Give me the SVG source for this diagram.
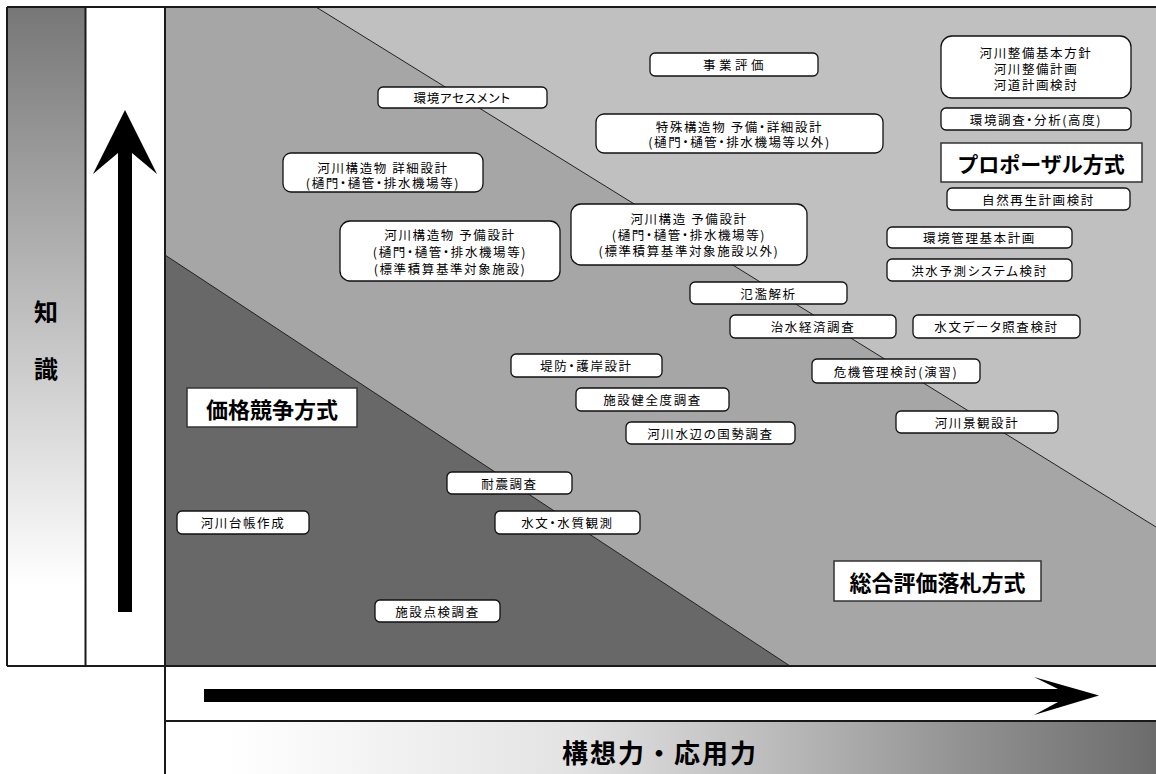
<svg xmlns="http://www.w3.org/2000/svg" width="1156" height="774" viewBox="0 0 1156 774">
<defs>
<linearGradient id="gLeft" x1="0" y1="0" x2="0" y2="1">
<stop offset="0" stop-color="#777"/>
<stop offset="0.88" stop-color="#fff"/>
<stop offset="1" stop-color="#fff"/>
</linearGradient>
<linearGradient id="gBottom" x1="0" y1="0" x2="1" y2="0">
<stop offset="0" stop-color="#fff"/>
<stop offset="0.064" stop-color="#fff"/>
<stop offset="0.41" stop-color="#e3e3e3"/>
<stop offset="0.61" stop-color="#bcbcbc"/>
<stop offset="0.8" stop-color="#939393"/>
<stop offset="1" stop-color="#6c6c6c"/>
</linearGradient>
<style>
.node rect{fill:#fff;stroke:#111;stroke-width:1.3}
.node text{font-family:"Noto Sans CJK JP","Noto Sans CJK SC",sans-serif;font-size:12.5px;letter-spacing:1.6px;text-anchor:middle;dominant-baseline:central;fill:#000;font-feature-settings:"palt"}
.title rect{fill:#fff;stroke:#333;stroke-width:1.5}
.title text{font-family:"Noto Sans CJK JP","Noto Sans CJK SC",sans-serif;font-weight:bold;text-anchor:middle;dominant-baseline:central;fill:#000}
.frame{stroke:#1a1a1a;stroke-width:2;fill:none}
.diag{stroke:#222;stroke-width:1;fill:none}
.axis-label{font-family:"Noto Sans CJK JP","Noto Sans CJK SC",sans-serif;font-weight:bold;text-anchor:middle;dominant-baseline:central;fill:#000}
</style>
</defs>
<rect x="0" y="0" width="1156" height="774" fill="#fff"/>
<!-- background regions -->
<rect x="7" y="7" width="78" height="659" fill="url(#gLeft)"/>
<rect x="165" y="7" width="991" height="659" fill="#a6a6a6"/>
<polygon points="316,7 1156,7 1156,527" fill="#c0c0c0"/>
<polygon points="165,255 790,666 165,666" fill="#686868"/>
<path class="diag" d="M316,7 L1156,527"/>
<path class="diag" d="M165,255 L790,666"/>
<rect x="165" y="721" width="991" height="53" fill="url(#gBottom)"/>
<!-- frame -->
<path class="frame" d="M7,7 H1156 M7,7 V666 M85.5,7 V666 M165,7 V774 M7,666 H1156 M165,721 H1156"/>
<!-- axes -->
<g id="axes">
<polygon points="125,110 157,174 132,153 132,612 118,612 118,153 93,174" fill="#000"/>
<polygon points="204,689 1058,689 1034,677 1099,695.5 1034,715 1058,702 204,702" fill="#000"/>
<text class="axis-label" x="46" y="310" font-size="24">知</text>
<text class="axis-label" x="46" y="367" font-size="24">識</text>
<text class="axis-label" x="660" y="751" font-size="26" letter-spacing="2">構想力・応用力</text>
</g>
<!-- nodes -->
<g id="n-jigyo" class="node"><rect x="650" y="53" width="168" height="23" rx="5"/><text x="735" y="64.5" style="letter-spacing:3.5px">事業評価</text></g>
<g id="n-kasen-seibi" class="node"><rect x="941" y="36" width="190" height="62" rx="11"/><text x="1036" y="52">河川整備基本方針</text><text x="1036" y="68">河川整備計画</text><text x="1036" y="84">河道計画検討</text></g>
<g id="n-kankyo-chosa" class="node"><rect x="941" y="108" width="190" height="22" rx="5"/><text x="1036" y="119">環境調査・分析(高度)</text></g>
<g id="n-proposal" class="title"><rect x="941" y="143" width="201" height="39"/><text x="1041" y="162.5" font-size="21">プロポーザル方式</text></g>
<g id="n-shizen" class="node"><rect x="947" y="188" width="183" height="22" rx="5"/><text x="1038.5" y="199">自然再生計画検討</text></g>
<g id="n-tokushu" class="node"><rect x="596" y="114" width="287" height="39" rx="8"/><text x="739.5" y="126.5">特殊構造物 予備・詳細設計</text><text x="739.5" y="141.5">(樋門・樋管・排水機場等以外)</text></g>
<g id="n-kasen-kozo-yobi" class="node"><rect x="571" y="204" width="236" height="61" rx="10"/><text x="689" y="218">河川構造 予備設計</text><text x="689" y="234">(樋門・樋管・排水機場等)</text><text x="689" y="250">(標準積算基準対象施設以外)</text></g>
<g id="n-kankyo-kanri" class="node"><rect x="887" y="227" width="185" height="21" rx="5"/><text x="979.5" y="237.5">環境管理基本計画</text></g>
<g id="n-kozui" class="node"><rect x="887" y="259" width="185" height="22" rx="5"/><text x="979.5" y="270">洪水予測システム検討</text></g>
<g id="n-assessment" class="node"><rect x="378" y="87" width="169" height="21" rx="5"/><text x="462.5" y="97.5" textLength="98" lengthAdjust="spacing">環境アセスメント</text></g>
<g id="n-kozobutsu-shosai" class="node"><rect x="283" y="153" width="200" height="39" rx="8"/><text x="383" y="167.5">河川構造物 詳細設計</text><text x="383" y="182.5">(樋門・樋管・排水機場等)</text></g>
<g id="n-kozobutsu-yobi" class="node"><rect x="340" y="221" width="220" height="60" rx="10"/><text x="450" y="234">河川構造物 予備設計</text><text x="450" y="251">(樋門・樋管・排水機場等)</text><text x="450" y="268">(標準積算基準対象施設)</text></g>
<g id="n-hanran" class="node"><rect x="690" y="282" width="157" height="22" rx="5"/><text x="768.5" y="293">氾濫解析</text></g>
<g id="n-chisui" class="node"><rect x="730" y="315" width="166" height="23" rx="5"/><text x="813" y="326.5">治水経済調査</text></g>
<g id="n-suimon-data" class="node"><rect x="913" y="315" width="167" height="23" rx="5"/><text x="996.5" y="326.5">水文データ照査検討</text></g>
<g id="n-teibo" class="node"><rect x="511" y="354" width="151" height="23" rx="5"/><text x="586.5" y="365.5">堤防・護岸設計</text></g>
<g id="n-kiki" class="node"><rect x="812" y="359" width="168" height="24" rx="5"/><text x="896" y="371">危機管理検討(演習)</text></g>
<g id="n-kenzendo" class="node"><rect x="576" y="388" width="153" height="23" rx="5"/><text x="652.5" y="399.5">施設健全度調査</text></g>
<g id="n-mizube" class="node"><rect x="626" y="422" width="169" height="22" rx="5"/><text x="710.5" y="433">河川水辺の国勢調査</text></g>
<g id="n-keikan" class="node"><rect x="896" y="411" width="162" height="22" rx="5"/><text x="977" y="422">河川景観設計</text></g>
<g id="n-taishin" class="node"><rect x="447" y="472" width="125" height="22" rx="5"/><text x="509.5" y="483">耐震調査</text></g>
<g id="n-daicho" class="node"><rect x="177" y="511" width="132" height="23" rx="5"/><text x="243" y="522.5">河川台帳作成</text></g>
<g id="n-suishitsu" class="node"><rect x="495" y="511" width="145" height="23" rx="5"/><text x="567.5" y="522.5">水文・水質観測</text></g>
<g id="n-tenken" class="node"><rect x="375" y="600" width="125" height="22" rx="5"/><text x="437.5" y="611">施設点検調査</text></g>
<g id="n-sogo" class="title"><rect x="834" y="561" width="207" height="40"/><text x="937.5" y="581" font-size="22">総合評価落札方式</text></g>
<g id="n-kakaku" class="title"><rect x="187" y="388" width="170" height="39"/><text x="272" y="407.5" font-size="22">価格競争方式</text></g>
<g id="connectors"></g>
</svg>
